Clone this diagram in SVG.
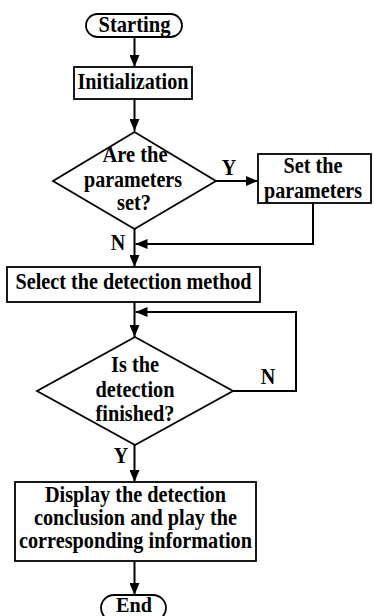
<svg xmlns="http://www.w3.org/2000/svg" width="374" height="616" viewBox="0 0 374 616">
<defs>
<marker id="ah" markerUnits="userSpaceOnUse" markerWidth="12" markerHeight="10" refX="12" refY="5" orient="auto">
<path d="M0,0 L12,5 L0,10 z" fill="#000"/>
</marker>
<style>
.s{fill:#fff;stroke:#000;stroke-width:1.8}
.t{font-family:"Liberation Serif","Times New Roman",serif;font-weight:bold;font-size:22.5px;fill:#000;text-anchor:middle}
.c{fill:none;stroke:#000;stroke-width:2}
</style>
</defs>
<rect width="374" height="616" fill="#fff"/>
<g id="connectors">
<path class="c" d="M134.5 37 V67" marker-end="url(#ah)"/>
<path class="c" d="M134.5 99 V131" marker-end="url(#ah)"/>
<path class="c" d="M216 181 H258" marker-end="url(#ah)"/>
<path class="c" d="M313 203 V244 H135.5" marker-end="url(#ah)"/>
<path class="c" d="M134.5 229 V267" marker-end="url(#ah)"/>
<path class="c" d="M134.5 302 V337" marker-end="url(#ah)"/>
<path class="c" d="M233 391 H296 V312 H135.5" marker-end="url(#ah)"/>
<path class="c" d="M134.5 445 V482" marker-end="url(#ah)"/>
<path class="c" d="M134.5 561 V595" marker-end="url(#ah)"/>
<text class="t" x="229" y="175" textLength="14.5" lengthAdjust="spacingAndGlyphs">Y</text>
<text class="t" x="118" y="250" textLength="14.5" lengthAdjust="spacingAndGlyphs">N</text>
<text class="t" x="268" y="384" textLength="14.5" lengthAdjust="spacingAndGlyphs">N</text>
<text class="t" x="121" y="463" textLength="14.5" lengthAdjust="spacingAndGlyphs">Y</text>
</g>
<g id="start">
<rect class="s" x="86" y="14" width="96" height="23" rx="11.5"/>
<text class="t" x="134.5" y="32" textLength="72" lengthAdjust="spacingAndGlyphs">Starting</text>
</g>
<g id="init">
<rect class="s" x="74" y="67" width="118" height="32"/>
<text class="t" x="133" y="89" textLength="111" lengthAdjust="spacingAndGlyphs">Initialization</text>
</g>
<g id="check-params">
<polygon class="s" points="134.5,132 216,181 134.5,229 53,181"/>
<text class="t" x="135" y="162" textLength="65" lengthAdjust="spacingAndGlyphs">Are the</text>
<text class="t" x="133" y="187" textLength="98" lengthAdjust="spacingAndGlyphs">parameters</text>
<text class="t" x="134" y="210" textLength="34" lengthAdjust="spacingAndGlyphs">set?</text>
</g>
<g id="set-params">
<rect class="s" x="258" y="154" width="113" height="49"/>
<text class="t" x="313" y="173" textLength="59" lengthAdjust="spacingAndGlyphs">Set the</text>
<text class="t" x="313" y="198" textLength="98" lengthAdjust="spacingAndGlyphs">parameters</text>
</g>
<g id="select">
<rect class="s" x="7" y="267" width="253" height="35"/>
<text class="t" x="133.5" y="289" textLength="236" lengthAdjust="spacingAndGlyphs">Select the detection method</text>
</g>
<g id="check-done">
<polygon class="s" points="135,337 233,391 135,445 37,391"/>
<text class="t" x="135" y="372" textLength="48" lengthAdjust="spacingAndGlyphs">Is the</text>
<text class="t" x="135" y="397" textLength="79" lengthAdjust="spacingAndGlyphs">detection</text>
<text class="t" x="135" y="421" textLength="79" lengthAdjust="spacingAndGlyphs">finished?</text>
</g>
<g id="display">
<rect class="s" x="15" y="482" width="241" height="79"/>
<text class="t" x="135.5" y="502" textLength="181" lengthAdjust="spacingAndGlyphs">Display the detection</text>
<text class="t" x="135.5" y="525" textLength="203" lengthAdjust="spacingAndGlyphs">conclusion and play the</text>
<text class="t" x="135.5" y="548" textLength="233" lengthAdjust="spacingAndGlyphs">corresponding information</text>
</g>
<g id="end">
<rect class="s" x="101" y="595" width="65" height="26" rx="13"/>
<text class="t" x="134" y="612" style="font-size:21px" textLength="36" lengthAdjust="spacingAndGlyphs">End</text>
</g>
</svg>
